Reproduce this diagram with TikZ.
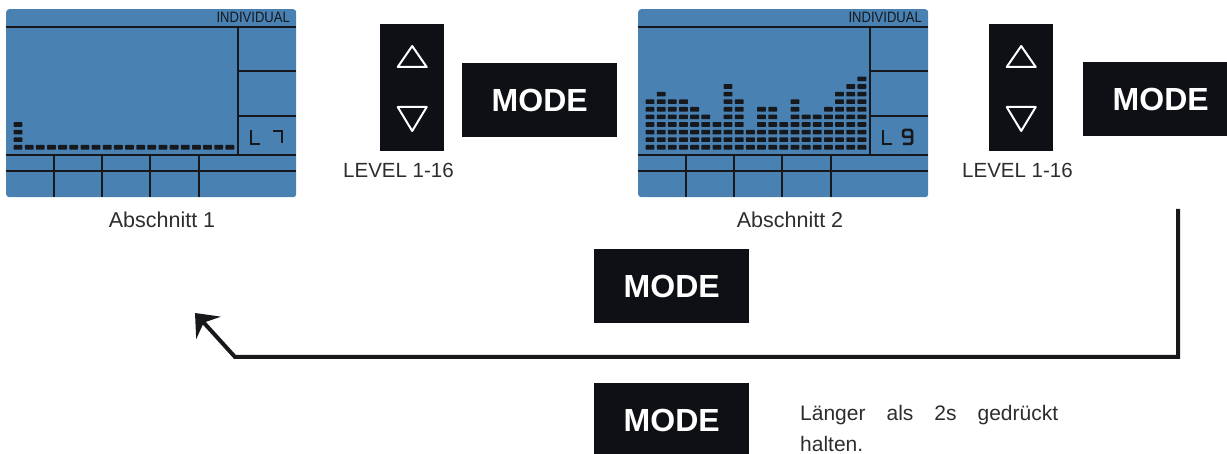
\documentclass[tikz,border=0pt]{standalone}
\usepackage{fontspec}
\setmainfont{Liberation Sans}
\usetikzlibrary{arrows.meta, calc}
\definecolor{lcdblue}{RGB}{72,129,178}
\definecolor{lcdline}{RGB}{22,24,28}
\definecolor{keyblack}{RGB}{14,16,22}
\definecolor{labelgray}{RGB}{45,45,45}
\tikzset{
  lcd/.style={rectangle, fill=lcdblue, rounded corners=3pt, inner sep=0pt,
              minimum width=290pt, minimum height=188pt, anchor=north west},
  lcdrule/.style={draw=lcdline, line width=2pt},
  lcdchar/.style={draw=lcdline, line width=2.5pt},
  lcdtxt/.style={text=lcdline, font=\fontsize{15}{15}\selectfont, xscale=0.87,
                 inner sep=0pt, anchor=north east},
  seg/.style={fill=lcdline, rounded corners=0.6pt},
  keycap/.style={rectangle, fill=keyblack, inner sep=0pt, anchor=north west},
  modekey/.style={keycap, minimum width=155pt, minimum height=74pt,
                  text=white, font=\fontsize{32}{32}\selectfont\bfseries},
  arrowkey/.style={keycap, minimum width=64pt, minimum height=127pt},
  tri/.style={draw=white, line width=2pt, line join=round},
  lbl/.style={text=labelgray, font=\fontsize{20.5}{24}\selectfont, inner sep=0pt},
  returnline/.style={draw=lcdline, line width=4pt,
                     -{Stealth[length=20pt, width=33pt, inset=7pt]}},
}
\begin{document}
\begin{tikzpicture}[x=1pt, y=-1pt]
  \useasboundingbox (0,0) rectangle (1227,454);

  % the two displays
  \foreach \x/\n in {6/1, 638/2} {
    \node[lcd] (lcd\n) at (\x,9) {};
    \draw[lcdrule] (\x,27) -- ++(290,0);
    \draw[lcdrule] (\x,155) -- ++(290,0);
    \draw[lcdrule] (\x,171) -- ++(290,0);
    \draw[lcdrule] (\x+232,27) -- (\x+232,155);
    \draw[lcdrule] (\x+232,71) -- ++(58,0);
    \draw[lcdrule] (\x+232,116) -- ++(58,0);
    \foreach \v in {48,96,144,193}
      \draw[lcdrule] (\x+\v,155) -- (\x+\v,197);
    \node[lcdtxt] (mode\n txt) at (\x+284,12) {INDIVIDUAL};
    \draw[lcdchar] (\x+245,130) -- (\x+245,144) -- (\x+254,144);
  }
  \draw[lcdchar] (273,131) -- (282,131) -- (282,143);
  \draw[lcdchar, rounded corners=1.5pt] (912,137) -- (903,137) -- (903,130)
    -- (912,130) -- (912,144) -- (903,144);

  % level bars
  \foreach \h [count=\c from 0] in {4,1,1,1,1,1,1,1,1,1,1,1,1,1,1,1,1,1,1,1}
    \foreach \r in {1,...,\h}
      \fill[seg] ({13.6+11.15*\c},{157.2-7.6*\r}) rectangle ++(8.8,-4.6);
  \foreach \h [count=\c from 0] in {7,8,7,7,6,5,4,9,7,3,6,6,4,7,5,5,6,8,9,10}
    \foreach \r in {1,...,\h}
      \fill[seg] ({645.6+11.15*\c},{157.2-7.6*\r}) rectangle ++(8.8,-4.6);

  % keys
  \node[arrowkey] (updown1) at (380,24) {};
  \node[modekey] (mode1) at (462,63) {MODE};
  \node[arrowkey] (updown2) at (989,24) {};
  \node[modekey] (mode2) at (1083,62) {MODE};
  \node[modekey] (mode3) at (594,249) {MODE};
  \node[modekey] (mode4) at (594,383) {MODE};
  \foreach \k in {updown1, updown2} {
    \draw[tri] ($(\k.north)+(0,22)$) -- ++(-14.5,21) -- ++(29,0) -- cycle;
    \draw[tri] ($(\k.north)+(-14.5,83)$) -- ++(29,0) -- ++(-14.5,24) -- cycle;
  }

  % labels
  \node[lbl, anchor=base west] (level1) at (343,178) {LEVEL 1-16};
  \node[lbl, anchor=base west] (level2) at (962,178) {LEVEL 1-16};
  \node[lbl, anchor=base, font=\fontsize{21.5}{24}\selectfont] (abs1) at (162,228) {Abschnitt 1};
  \node[lbl, anchor=base, font=\fontsize{21.5}{24}\selectfont] (abs2) at (790,228) {Abschnitt 2};
  \node[lbl, anchor=north west, text width=258pt, align=justify,
        font=\fontsize{21}{31}\selectfont] (hold) at (800,405)
    {\hbadness=10000 Länger als 2s gedrückt\linebreak halten.};

  % back to section 1
  \coordinate (loopstart) at (1178,209);
  \coordinate (loopbend) at (235,357);
  \coordinate (looptip) at (195,313);
  \draw[returnline] (loopstart) |- (loopbend) -- (looptip);
\end{tikzpicture}
\end{document}
